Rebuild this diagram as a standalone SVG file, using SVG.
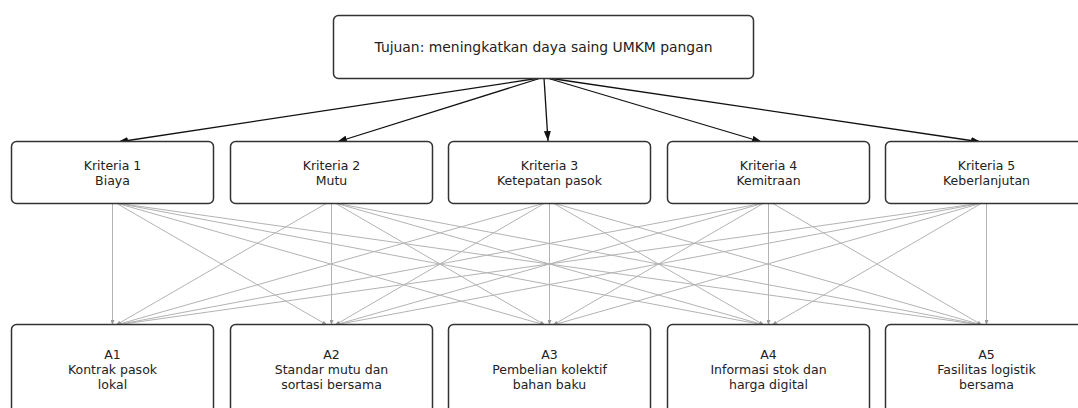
<svg xmlns="http://www.w3.org/2000/svg" width="1078" height="408" viewBox="0 0 1078 408">
<style>
.box{fill:#fff;stroke:#333;stroke-width:1.5}
.t{font-family:"DejaVu Sans",sans-serif;font-size:12.5px;fill:#222;text-anchor:middle}
.tt{font-family:"DejaVu Sans",sans-serif;font-size:13.9px;fill:#222;text-anchor:middle}
.main{stroke:#111;stroke-width:1.3;fill:none}
.sub{stroke:#b3b3b3;stroke-width:1;fill:none}
</style>
<defs>
<marker id="ah" markerUnits="userSpaceOnUse" markerWidth="10" markerHeight="7" refX="10" refY="3.5" orient="auto">
<path d="M0,0 L10,3.5 L0,7 z" fill="#111"/>
</marker>
<marker id="ahg" markerUnits="userSpaceOnUse" markerWidth="5" markerHeight="4" refX="5" refY="2" orient="auto">
<path d="M0,0 L5,2 L0,4 z" fill="#999"/>
</marker>
</defs>
<g id="connectors">
<g id="goal-edges">
<path class="main" marker-end="url(#ah)" d="M540,78 L118,142"/>
<path class="main" marker-end="url(#ah)" d="M541,78 L337,142"/>
<path class="main" marker-end="url(#ah)" d="M544,78 L548,141"/>
<path class="main" marker-end="url(#ah)" d="M547,78 L762,142"/>
<path class="main" marker-end="url(#ah)" d="M548,78 L981,142"/>
</g>
<g id="criteria-edges">
<path class="sub" marker-end="url(#ahg)" d="M112.5,203 L112.5,325"/>
<path class="sub" marker-end="url(#ahg)" d="M116,203 L327,325"/>
<path class="sub" marker-end="url(#ahg)" d="M116,203 L545,325"/>
<path class="sub" marker-end="url(#ahg)" d="M116,203 L764,325"/>
<path class="sub" marker-end="url(#ahg)" d="M116,203 L982,325"/>
<path class="sub" marker-end="url(#ahg)" d="M327,203 L116,325"/>
<path class="sub" marker-end="url(#ahg)" d="M331.5,203 L331.5,325"/>
<path class="sub" marker-end="url(#ahg)" d="M335,203 L545,325"/>
<path class="sub" marker-end="url(#ahg)" d="M335,203 L764,325"/>
<path class="sub" marker-end="url(#ahg)" d="M335,203 L982,325"/>
<path class="sub" marker-end="url(#ahg)" d="M545,203 L116,325"/>
<path class="sub" marker-end="url(#ahg)" d="M545,203 L335,325"/>
<path class="sub" marker-end="url(#ahg)" d="M549.5,203 L549.5,325"/>
<path class="sub" marker-end="url(#ahg)" d="M553,203 L764,325"/>
<path class="sub" marker-end="url(#ahg)" d="M553,203 L982,325"/>
<path class="sub" marker-end="url(#ahg)" d="M764,203 L116,325"/>
<path class="sub" marker-end="url(#ahg)" d="M764,203 L335,325"/>
<path class="sub" marker-end="url(#ahg)" d="M764,203 L553,325"/>
<path class="sub" marker-end="url(#ahg)" d="M768.5,203 L768.5,325"/>
<path class="sub" marker-end="url(#ahg)" d="M772,203 L982,325"/>
<path class="sub" marker-end="url(#ahg)" d="M982,203 L116,325"/>
<path class="sub" marker-end="url(#ahg)" d="M982,203 L335,325"/>
<path class="sub" marker-end="url(#ahg)" d="M982,203 L553,325"/>
<path class="sub" marker-end="url(#ahg)" d="M982,203 L772,325"/>
<path class="sub" marker-end="url(#ahg)" d="M986.5,203 L986.5,325"/>
</g>
</g>
<g id="goal">
<rect class="box" x="333.5" y="15.5" width="420" height="63" rx="5"/>
<text class="tt" x="543.5" y="51.5">Tujuan: meningkatkan daya saing UMKM pangan</text>
</g>
<g id="k1">
<rect class="box" x="11.5" y="141.5" width="202" height="62" rx="5"/>
<text class="t" x="112.5" y="170">Kriteria 1</text>
<text class="t" x="112.5" y="185">Biaya</text>
</g>
<g id="k2">
<rect class="box" x="230.5" y="141.5" width="202" height="62" rx="5"/>
<text class="t" x="331.5" y="170">Kriteria 2</text>
<text class="t" x="331.5" y="185">Mutu</text>
</g>
<g id="k3">
<rect class="box" x="448.5" y="141.5" width="202" height="62" rx="5"/>
<text class="t" x="549.5" y="170">Kriteria 3</text>
<text class="t" x="549.5" y="185">Ketepatan pasok</text>
</g>
<g id="k4">
<rect class="box" x="667.5" y="141.5" width="202" height="62" rx="5"/>
<text class="t" x="768.5" y="170">Kriteria 4</text>
<text class="t" x="768.5" y="185">Kemitraan</text>
</g>
<g id="k5">
<rect class="box" x="885.5" y="141.5" width="202" height="62" rx="5"/>
<text class="t" x="986.5" y="170">Kriteria 5</text>
<text class="t" x="986.5" y="185">Keberlanjutan</text>
</g>
<g id="a1">
<rect class="box" x="11.5" y="324.5" width="202" height="95" rx="5"/>
<text class="t" x="112.5" y="359">A1</text>
<text class="t" x="112.5" y="374">Kontrak pasok</text>
<text class="t" x="112.5" y="389">lokal</text>
</g>
<g id="a2">
<rect class="box" x="230.5" y="324.5" width="202" height="95" rx="5"/>
<text class="t" x="331.5" y="359">A2</text>
<text class="t" x="331.5" y="374">Standar mutu dan</text>
<text class="t" x="331.5" y="389">sortasi bersama</text>
</g>
<g id="a3">
<rect class="box" x="448.5" y="324.5" width="202" height="95" rx="5"/>
<text class="t" x="549.5" y="359">A3</text>
<text class="t" x="549.5" y="374">Pembelian kolektif</text>
<text class="t" x="549.5" y="389">bahan baku</text>
</g>
<g id="a4">
<rect class="box" x="667.5" y="324.5" width="202" height="95" rx="5"/>
<text class="t" x="768.5" y="359">A4</text>
<text class="t" x="768.5" y="374">Informasi stok dan</text>
<text class="t" x="768.5" y="389">harga digital</text>
</g>
<g id="a5">
<rect class="box" x="885.5" y="324.5" width="202" height="95" rx="5"/>
<text class="t" x="986.5" y="359">A5</text>
<text class="t" x="986.5" y="374">Fasilitas logistik</text>
<text class="t" x="986.5" y="389">bersama</text>
</g>
</svg>
